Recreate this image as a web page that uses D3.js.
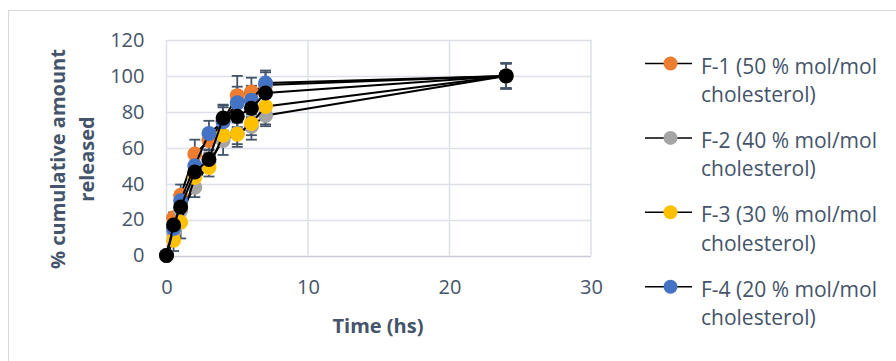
<!DOCTYPE html>
<html>
<head>
<meta charset="utf-8">
<script src="https://cdn.jsdelivr.net/npm/d3@7"></script>
<style>
  body { margin: 0; background: #fff; }
  text { font-family: "Open Sans", sans-serif; fill: #44546a; }
</style>
</head>
<body>
<div id="chart"></div>
<script>
// sampling times (h)
var times = [0, 0.5, 1, 2, 3, 4, 5, 6, 7, 24];

// % cumulative amount released, one array per formulation
var f1 = [0, 21, 33.5, 56.5, 64, 75, 89, 91, 95, 100];
var f2 = [0, 13, 25, 38, 52, 64, 68, 72, 78, 100];
var f3 = [0, 8.5, 18.5, 43.5, 49, 67, 67.5, 73.5, 83, 100];
var f4 = [0, 15, 30.5, 50, 68, 74.5, 85, 86.5, 96, 100];
var f5 = [0, 17, 27, 46.5, 53.5, 76.5, 77.5, 82, 90.5, 100];

// error bar half-lengths
var e1 = [0, 3, 6, 8, 5, 9, 11, 8, 7, 7];
var e2 = [0, 3, 4, 5.5, 5, 8, 6, 5, 6, 7];
var e3 = [0, 6, 9, 4, 5, 5, 7, 9, 10, 7];
var e4 = [0, 3, 4, 5, 7, 8, 9, 8, 7, 7];
var e5 = [0, 3, 4, 4, 5, 7, 6, 6, 6, 7];

var names = ["F-1 (50 % mol/mol", "F-2 (40 % mol/mol", "F-3 (30 % mol/mol", "F-4 (20 % mol/mol", ""];
var colors = ["#ed7d31", "#a5a5a5", "#ffc000", "#4472c4", "#000000"];

var xTicks = [0, 10, 20, 30];
var yTicks = [0, 20, 40, 60, 80, 100, 120];

var series = [f1, f2, f3, f4, f5].map(function(vals, i){
	var errs = [e1, e2, e3, e4, e5][i];
	return {
		name: names[i],
		color: colors[i],
		points: vals.map(function(v, j){ return {t: times[j], v: v, e: errs[j]}; })
	};
});

var width = 896, height = 361;
var svg = d3.select("#chart").append("svg")
	.attr("width", width)
	.attr("height", height);

// outer chart frame
svg.append("rect")
	.attr("x", 8.5).attr("y", 10.5)
	.attr("width", 900).attr("height", 400)
	.attr("fill", "none")
	.attr("stroke", "#d9d9d9");

var x = d3.scaleLinear().domain([0, 30]).range([166.5, 591]);
var y = d3.scaleLinear().domain([0, 120]).range([255.5, 40]);

// gridlines
svg.append("g").selectAll("line")
	.data(yTicks)
	.enter().append("line")
	.attr("x1", x(0)).attr("x2", x(30))
	.attr("y1", function(d){ return Math.round(y(d)) + 0.5; })
	.attr("y2", function(d){ return Math.round(y(d)) + 0.5; })
	.attr("stroke", function(d){ return d === 0 ? "#c9ccd4" : "#dde0e6"; })
	.attr("stroke-width", 1.5);

svg.append("g").selectAll("line")
	.data(xTicks)
	.enter().append("line")
	.attr("y1", y(0)).attr("y2", y(120))
	.attr("x1", function(d){ return x(d); })
	.attr("x2", function(d){ return x(d); })
	.attr("stroke", "#dde0e6")
	.attr("stroke-width", 1.5);

// axes (labels only)
var yAxis = svg.append("g")
	.attr("transform", "translate(" + (x(0) - 22) + ",0)")
	.call(d3.axisLeft(y).tickValues(yTicks).tickSize(0).tickPadding(0));
var xAxis = svg.append("g")
	.attr("transform", "translate(0," + (y(0) + 24) + ")")
	.call(d3.axisBottom(x).tickValues(xTicks).tickSize(0).tickPadding(0));
[yAxis, xAxis].forEach(function(a){
	a.select(".domain").remove();
	a.selectAll("text")
		.style("font-family", '"Open Sans", sans-serif')
		.style("font-size", "20px")
		.attr("fill", "#44546a");
});
xAxis.selectAll("text").attr("dy", "0.71em");

// axis titles
svg.append("text")
	.attr("x", 378).attr("y", 333)
	.attr("text-anchor", "middle")
	.style("font-size", "20px").style("font-weight", "bold")
	.text("Time (hs)");

var yt = svg.append("text")
	.attr("transform", "translate(65,159) rotate(-90)")
	.attr("text-anchor", "middle")
	.style("font-size", "20px").style("font-weight", "bold");
yt.append("tspan").attr("x", 0).attr("y", 0).text("% cumulative amount");
yt.append("tspan").attr("x", 0).attr("y", 29).text("released");

// error bars
var capW = 5.5;
var eb = svg.append("g")
	.attr("stroke", "#44546a")
	.attr("stroke-width", 1.8);
series.forEach(function(s){
	var g = eb.append("g");
	var pts = s.points.filter(function(p){ return p.e > 0; });
	g.selectAll(".stem").data(pts).enter().append("line")
		.attr("x1", function(p){ return x(p.t); })
		.attr("x2", function(p){ return x(p.t); })
		.attr("y1", function(p){ return y(p.v - p.e); })
		.attr("y2", function(p){ return y(p.v + p.e); });
	g.selectAll(".capT").data(pts).enter().append("line")
		.attr("x1", function(p){ return x(p.t) - capW; })
		.attr("x2", function(p){ return x(p.t) + capW; })
		.attr("y1", function(p){ return y(p.v + p.e); })
		.attr("y2", function(p){ return y(p.v + p.e); });
	g.selectAll(".capB").data(pts).enter().append("line")
		.attr("x1", function(p){ return x(p.t) - capW; })
		.attr("x2", function(p){ return x(p.t) + capW; })
		.attr("y1", function(p){ return y(p.v - p.e); })
		.attr("y2", function(p){ return y(p.v - p.e); });
});

// lines and markers
var line = d3.line()
	.x(function(p){ return x(p.t); })
	.y(function(p){ return y(p.v); });

series.forEach(function(s){
	svg.append("path")
		.datum(s.points)
		.attr("d", line)
		.attr("fill", "none")
		.attr("stroke", "#000")
		.attr("stroke-width", 2);
	svg.append("g").selectAll("circle")
		.data(s.points)
		.enter().append("circle")
		.attr("cx", function(p){ return x(p.t); })
		.attr("cy", function(p){ return y(p.v); })
		.attr("r", 7.5)
		.attr("fill", s.color);
});

// legend (first four series)
var legend = svg.append("g");
var leg = legend.selectAll("g")
	.data(series.slice(0, 4))
	.enter().append("g")
	.attr("transform", function(d, i){ return "translate(0," + (63.5 + i * 74.4) + ")"; });
leg.append("line")
	.attr("x1", 645).attr("x2", 692)
	.attr("stroke", "#000").attr("stroke-width", 1.5);
leg.append("circle")
	.attr("cx", 670.5).attr("r", 7)
	.attr("fill", function(d){ return d.color; });
var lt = leg.append("text")
	.style("font-size", "21px");
lt.append("tspan").attr("x", 701).attr("y", 10)
	.text(function(d){ return d.name; });
lt.append("tspan").attr("x", 701).attr("y", 38.5)
	.text("cholesterol)");
</script>
</body>
</html>
